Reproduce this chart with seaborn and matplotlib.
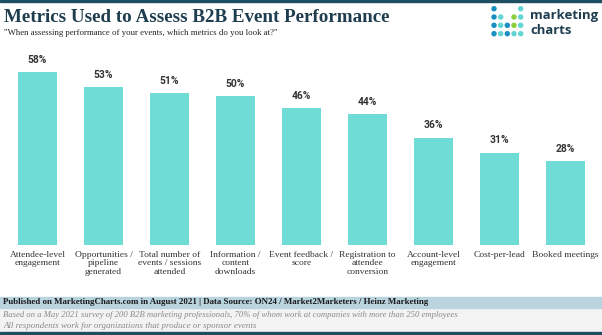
import matplotlib
matplotlib.use("Agg")
import matplotlib.pyplot as plt
import seaborn as sns
import pandas as pd
from matplotlib.patches import Rectangle, Circle

categories = ["Attendee-level\nengagement", "Opportunities /\npipeline\ngenerated",
              "Total number of\nevents / sessions\nattended", "Information /\ncontent\ndownloads",
              "Event feedback /\nscore", "Registration to\nattendee\nconversion",
              "Account-level\nengagement", "Cost-per-lead", "Booked meetings"]
values = [58, 53, 51, 50, 46, 44, 36, 31, 28]
value_labels = [f"{v}%" for v in values]

title = "Metrics Used to Assess B2B Event Performance"
subtitle = "\"When assessing performance of your events, which metrics do you look at?\""
footer_main = "Published on MarketingCharts.com in August 2021 | Data Source: ON24 / Market2Marketers / Heinz Marketing"
footer_note1 = "Based on a May 2021 survey of 200 B2B marketing professionals, 70% of whom work at companies with more than 250 employees"
footer_note2 = "All respondents work for organizations that produce or sponsor events"

sns.set_theme(style="white")
plt.rcParams['font.family'] = ['DejaVu Sans']

W, H = 602, 335
fig = plt.figure(figsize=(W / 100, H / 100), dpi=100)
fig.patch.set_facecolor("white")
renderer = fig.canvas.get_renderer()

def fx(px):
    return px / W

def fy(py):
    return 1 - py / H

def fit(t, target):
    for _ in range(3):
        w = t.get_window_extent(renderer=renderer).width
        t.set_fontsize(t.get_fontsize() * target / w)

SERIF = "Liberation Serif"

# axes: baseline at y=245, 60% -> top at 66
ax = fig.add_axes([fx(4.5), fy(245), fx(594), (245 - 66) / H])
df = pd.DataFrame({"cat": categories, "val": values})
sns.barplot(data=df, x="cat", y="val", ax=ax, color="#6fdcd5", width=0.59,
            saturation=1, edgecolor="none")
ax.set_ylim(0, 60)
ax.set_xlim(-0.5, len(values) - 0.5)
ax.set_xlabel("")
ax.set_ylabel("")
ax.set_yticks([])
ax.tick_params(axis="x", length=0, pad=4)
ax.set_xticklabels(categories, fontsize=6.8, family=SERIF, color="#333333",
                   linespacing=1.12, va="top")
for s in ax.spines.values():
    s.set_visible(False)
ax.set_facecolor("none")
for i, (v, lab) in enumerate(zip(values, value_labels)):
    ax.text(i, v + 2.4, lab, ha="center", va="bottom", fontsize=7.4,
            fontweight="bold", color="#333333", family="Roboto")

# bands and lines
fig.add_artist(Rectangle((0, fy(2)), 1, 2 / H, transform=fig.transFigure,
                         color="#1f4e63", zorder=5))
fig.add_artist(Rectangle((0, fy(333)), 1, (333 - 308) / H, transform=fig.transFigure,
                         color="#f3f3f3", zorder=0))
fig.add_artist(Rectangle((0, fy(308)), 1, (308 - 297) / H, transform=fig.transFigure,
                         color="#b9d3df", zorder=1))
fig.add_artist(Rectangle((0, 0), 1, 3 / H, transform=fig.transFigure,
                         color="#1f4e63", zorder=5))

# titles
t = fig.text(fx(4), fy(17), title, fontsize=13, fontweight="bold", family=SERIF,
             color="#1e3d4f", va="center", ha="left")
fit(t, 386)
t = fig.text(fx(4), fy(33), subtitle, fontsize=8, family=SERIF,
             color="#222222", va="center", ha="left")
fit(t, 275)

# footer texts
t = fig.text(fx(3), fy(302.5), footer_main, fontsize=7, fontweight="bold", family=SERIF,
             color="#1a1a1a", va="center", ha="left", zorder=6)
fit(t, 425)
t = fig.text(fx(3), fy(315), footer_note1, fontsize=6.5, style="italic", family=SERIF,
             color="#8a8a8a", va="center", ha="left", zorder=6)
fit(t, 455)
t = fig.text(fx(3), fy(326), footer_note2, fontsize=6.5, style="italic", family=SERIF,
             color="#8a8a8a", va="center", ha="left", zorder=6)
fit(t, 252)

# logo
blue, teal, green = "#1b8fc0", "#62d5d2", "#8ccf3c"
cols = [494, 500.7, 507.3, 514, 520.7]
rows = [8.7, 17, 25.3, 33.7]
grid = [
    [blue, None, None, None, teal],
    [blue, teal, None, green, teal],
    [blue, teal, blue, green, teal],
    [blue, teal, blue, teal, teal],
]
for r, row in enumerate(grid):
    for c, col in enumerate(row):
        if col:
            fig.add_artist(Circle((cols[c], H - rows[r]), 2.0, transform=None,
                                  color=col, zorder=6))
t = fig.text(fx(530), fy(15), "marketing", fontsize=10, fontweight="bold",
             color="#1e3d4f", va="center", ha="left", family="Open Sans")
fit(t, 68)
fig.text(fx(530), fy(30), "charts", fontsize=t.get_fontsize(), fontweight="bold",
         color="#1e3d4f", va="center", ha="left", family="Open Sans")

fig.savefig("out.png", dpi=100, facecolor="white")
